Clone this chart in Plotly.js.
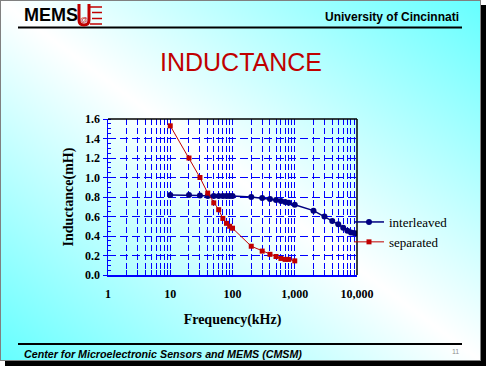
<!DOCTYPE html>
<html><head><meta charset="utf-8">
<script src="https://cdn.plot.ly/plotly-3.0.1.min.js"></script>
<style>
html,body{margin:0;padding:0;width:486px;height:366px;overflow:hidden;background:#fff;}
#shadow{position:absolute;left:5px;top:5px;width:481px;height:361px;background:#000;}
#slide{position:absolute;left:0;top:0;width:479px;height:359px;border:1px solid #808080;background:linear-gradient(to top right,#66ffff 0%,#ffffff 50%,#66ffff 100%);}
#chart{position:absolute;left:0;top:0;width:486px;height:366px;}
</style></head><body>
<div id="shadow"></div><div id="slide"></div><div id="chart"></div>
<script>
// ---- data ----
const seriesNames = ['interleaved', 'separated'];
const freqInterleaved = [10, 20, 30, 40, 50, 60, 70, 80, 90, 100, 200, 300, 400, 500, 600, 700, 800, 1000, 2000, 3000, 4000, 5000, 6000, 7000, 8000, 9000, 10000];
const inductanceInterleaved = [0.82, 0.82, 0.815, 0.81, 0.81, 0.81, 0.81, 0.81, 0.81, 0.81, 0.80, 0.79, 0.78, 0.77, 0.76, 0.75, 0.74, 0.72, 0.66, 0.60, 0.555, 0.52, 0.485, 0.455, 0.435, 0.43, 0.425];
const freqSeparated = [10, 20, 30, 40, 50, 60, 70, 80, 90, 100, 200, 300, 400, 500, 600, 700, 800, 1000];
const inductanceSeparated = [1.53, 1.20, 1.00, 0.84, 0.74, 0.67, 0.58, 0.53, 0.50, 0.48, 0.295, 0.245, 0.212, 0.19, 0.17, 0.16, 0.16, 0.145];
const xTickDecades = [1, 10, 100, 1000, 10000];
const xTickLabels = ['1', '10', '100', '1,000', '10,000'];

// ---- layout helpers ----
const W = 486, H = 366, L = 108, R = 129, T = 119, B = 91;
const pw = W - L - R, ph = H - T - B;
const px = x => (x - L) / pw;
const py = y => (H - B - y) / ph;

const tickVals = [], tickText = [];
for (let d = 0; d < xTickDecades.length - 1; d++) {
  for (let m = 1; m < 10; m++) {
    tickVals.push(m * xTickDecades[d]);
    tickText.push(m === 1 ? xTickLabels[d] : '');
  }
}
tickVals.push(xTickDecades[xTickDecades.length - 1]);
tickText.push(xTickLabels[xTickLabels.length - 1]);

const NAVY = '#000080', RED = '#c00000', BLUE = '#0000ff';
const serif = 'Liberation Serif, Times New Roman, serif';
const sans = 'Liberation Sans, Arial, sans-serif';

const traces = [
  {x: freqInterleaved, y: inductanceInterleaved, name: seriesNames[0], mode: 'lines+markers',
   line: {color: NAVY, width: 1.5}, marker: {symbol: 'circle', size: 6, color: NAVY}},
  {x: freqSeparated, y: inductanceSeparated, name: seriesNames[1], mode: 'lines+markers',
   line: {color: RED, width: 1}, marker: {symbol: 'square', size: 5, color: RED}}
];

// U-logo outline path in paper coordinates
const uPath = 'M' + px(79) + ',' + py(4) + ' L' + px(79) + ',' + py(20) +
  ' Q' + px(79) + ',' + py(25) + ' ' + px(84) + ',' + py(25) +
  ' Q' + px(89) + ',' + py(25) + ' ' + px(89) + ',' + py(20) +
  ' L' + px(89) + ',' + py(4);

const layout = {
  width: W, height: H,
  margin: {l: L, r: R, t: T, b: B, pad: 0},
  paper_bgcolor: 'rgba(0,0,0,0)', plot_bgcolor: 'rgba(0,0,0,0)',
  showlegend: true,
  legend: {x: px(349), y: py(207), xanchor: 'left', yanchor: 'top', bgcolor: 'rgba(0,0,0,0)',
    font: {family: serif, size: 13, color: '#000'}, itemwidth: 30, tracegroupgap: 0},
  xaxis: {type: 'log', range: [0, 4], tickmode: 'array', tickvals: tickVals, ticktext: tickText,
    ticks: 'inside', ticklen: 5, tickcolor: BLUE, tickwidth: 1,
    showline: true, linecolor: BLUE, linewidth: 1.5, zeroline: false,
    showgrid: true, gridcolor: BLUE, gridwidth: 1, griddash: '6px,3px',
    tickfont: {family: serif, size: 12, color: '#000', weight: 'bold'}, ticklabelstandoff: 7,
    title: {text: '<b>Frequency(kHz)</b>', font: {family: serif, size: 14, color: '#000'}, standoff: 14}},
  yaxis: {range: [0, 1.6], tick0: 0, dtick: 0.2, tickformat: '.1f',
    ticks: 'outside', ticklen: 4, tickcolor: BLUE, tickwidth: 1,
    showline: true, linecolor: BLUE, linewidth: 1.5, zeroline: false,
    showgrid: true, gridcolor: BLUE, gridwidth: 1, griddash: '8px,4px',
    minor: {dtick: 0.05, ticks: 'inside', ticklen: 3, tickcolor: BLUE, tickwidth: 1, showgrid: false},
    tickfont: {family: serif, size: 12, color: '#000', weight: 'bold'},
    title: {text: '<b>Inductance(mH)</b>', font: {family: serif, size: 14, color: '#000'}, standoff: 8}},
  shapes: [
    {type: 'line', xref: 'paper', yref: 'paper', x0: 0, x1: 1, y0: 1, y1: 1, line: {color: '#000', width: 1.5}},
    {type: 'line', xref: 'paper', yref: 'paper', x0: 1, x1: 1, y0: 0, y1: 1, line: {color: '#000', width: 1.5}},
    {type: 'line', xref: 'paper', yref: 'paper', x0: px(18), x1: px(462), y0: py(27.5), y1: py(27.5), line: {color: '#000', width: 2}},
    {type: 'line', xref: 'paper', yref: 'paper', x0: px(18), x1: px(462), y0: py(344), y1: py(344), line: {color: '#000', width: 2}},
    {type: 'path', xref: 'paper', yref: 'paper', path: uPath, line: {color: RED, width: 3}},
    {type: 'line', xref: 'paper', yref: 'paper', x0: px(90), x1: px(102), y0: py(7), y1: py(7), line: {color: RED, width: 1.5}},
    {type: 'line', xref: 'paper', yref: 'paper', x0: px(92), x1: px(102), y0: py(12.5), y1: py(12.5), line: {color: RED, width: 1.5}},
    {type: 'line', xref: 'paper', yref: 'paper', x0: px(92), x1: px(102), y0: py(18.5), y1: py(18.5), line: {color: RED, width: 1.5}},
    {type: 'line', xref: 'paper', yref: 'paper', x0: px(90), x1: px(102), y0: py(24), y1: py(24), line: {color: RED, width: 1.5}}
  ],
  annotations: [
    {text: '<b>MEMS</b>', xref: 'paper', yref: 'paper', x: px(22), y: py(15), xanchor: 'left', yanchor: 'middle', showarrow: false,
     font: {family: sans, size: 18, color: '#000'}},
    {text: '@', xref: 'paper', yref: 'paper', x: px(84), y: py(19), xanchor: 'center', yanchor: 'middle', showarrow: false,
     font: {family: sans, size: 8, color: RED}},
    {text: '<b>University of Cincinnati</b>', xref: 'paper', yref: 'paper', x: px(461), y: py(17), xanchor: 'right', yanchor: 'middle', showarrow: false,
     font: {family: sans, size: 12, color: '#000'}},
    {text: 'INDUCTANCE', xref: 'paper', yref: 'paper', x: px(240.5), y: py(62.5), xanchor: 'center', yanchor: 'middle', showarrow: false,
     font: {family: sans, size: 25, color: RED}},
    {text: '<b><i>Center for Microelectronic Sensors and MEMS (CMSM)</i></b>', xref: 'paper', yref: 'paper', x: px(22), y: py(353.5), xanchor: 'left', yanchor: 'middle', showarrow: false,
     font: {family: sans, size: 10.7, color: '#000'}},
    {text: '11', xref: 'paper', yref: 'paper', x: px(455), y: py(351), xanchor: 'center', yanchor: 'middle', showarrow: false,
     font: {family: sans, size: 7, color: '#909090'}}
  ]
};

Plotly.newPlot('chart', traces, layout, {displayModeBar: false, staticPlot: true});
</script></body></html>
